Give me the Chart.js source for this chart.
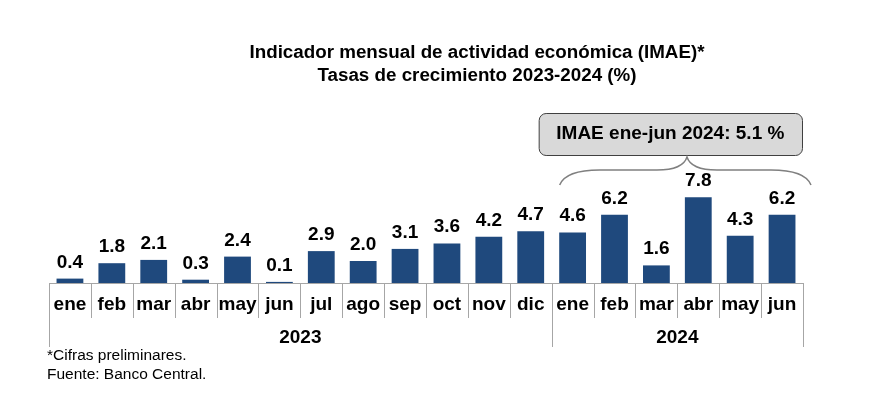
<!DOCTYPE html>
<html>
<head>
<meta charset="utf-8">
<script src="https://cdn.jsdelivr.net/npm/chart.js@4.4.1/dist/chart.umd.min.js"></script>
<style>
html,body{margin:0;padding:0;background:#fff;}
#wrap{width:890px;height:402px;position:relative;}
</style>
</head>
<body>
<div id="wrap"><canvas id="c" width="890" height="402"></canvas></div>
<script>
const months = ["ene","feb","mar","abr","may","jun","jul","ago","sep","oct","nov","dic","ene","feb","mar","abr","may","jun"];
const years = ["2023","2024"];
const yearSpans = [[0,11],[12,17]];
const values = [0.4,1.8,2.1,0.3,2.4,0.1,2.9,2.0,3.1,3.6,4.2,4.7,4.6,6.2,1.6,7.8,4.3,6.2];
const titleLines = ["Indicador mensual de actividad económica (IMAE)*","Tasas de crecimiento 2023-2024 (%)"];
const calloutText = "IMAE ene-jun 2024: 5.1 %";
const calloutSpan = [12,17];
const notes = ["*Cifras preliminares.","Fuente: Banco Central."];

const FONT = "'Liberation Sans', Arial, sans-serif";

const decor = {
  id: 'decor',
  afterDatasetsDraw(chart) {
    const ctx = chart.ctx;
    const xs = chart.scales.x;
    const ca = chart.chartArea;
    const meta = chart.getDatasetMeta(0);
    const n = months.length;
    const base = ca.bottom;
    ctx.save();
    // value labels
    ctx.fillStyle = '#000';
    ctx.font = 'bold 19px ' + FONT;
    ctx.textAlign = 'center';
    ctx.textBaseline = 'alphabetic';
    meta.data.forEach((bar, i) => {
      ctx.fillText(values[i].toFixed(1), bar.x, bar.y - 11);
    });
    // axis line
    ctx.strokeStyle = '#a6a6a6';
    ctx.lineWidth = 1;
    ctx.beginPath();
    ctx.moveTo(ca.left, base + 0.5);
    ctx.lineTo(ca.right, base + 0.5);
    ctx.stroke();
    // separators
    const yearBounds = new Set([0, 12, 18]);
    for (let k = 0; k <= n; k++) {
      const x = Math.round(xs.getPixelForValue(k - 0.5)) + 0.5;
      const yEnd = yearBounds.has(k) ? base + 64 : base + 35;
      ctx.beginPath();
      ctx.moveTo(x, base);
      ctx.lineTo(x, yEnd);
      ctx.stroke();
    }
    // month labels
    ctx.fillStyle = '#000';
    ctx.font = 'bold 19px ' + FONT;
    ctx.textBaseline = 'middle';
    months.forEach((m, i) => {
      ctx.fillText(m, xs.getPixelForValue(i), base + 22);
    });
    // year labels
    years.forEach((y, j) => {
      const x0 = xs.getPixelForValue(yearSpans[j][0] - 0.5);
      const x1 = xs.getPixelForValue(yearSpans[j][1] + 0.5);
      ctx.fillText(y, (x0 + x1) / 2, base + 55);
    });
    // title
    ctx.font = 'bold 18.8px ' + FONT;
    ctx.fillText(titleLines[0], 477, 53);
    ctx.fillText(titleLines[1], 477, 76);
    // callout box
    const bx0 = xs.getPixelForValue(calloutSpan[0] - 0.5) - 13;
    const bx1 = xs.getPixelForValue(calloutSpan[1] + 0.5) - 1;
    const by0 = 113, by1 = 155;
    ctx.beginPath();
    ctx.roundRect(bx0 + 0.5, by0 + 0.5, bx1 - bx0, by1 - by0, 7);
    ctx.fillStyle = '#d9d9d9';
    ctx.fill();
    ctx.strokeStyle = '#404040';
    ctx.lineWidth = 1;
    ctx.stroke();
    ctx.fillStyle = '#000';
    ctx.font = 'bold 19px ' + FONT;
    ctx.fillText(calloutText, (bx0 + bx1) / 2, 134);
    // brace
    const L = xs.getPixelForValue(calloutSpan[0] - 0.5) + 8;
    const R = xs.getPixelForValue(calloutSpan[1] + 0.5) + 8;
    const M = 687;
    const yb = 185, ym = 170, yt = 157;
    ctx.strokeStyle = '#808080';
    ctx.lineWidth = 1.5;
    ctx.beginPath();
    ctx.moveTo(L, yb);
    ctx.quadraticCurveTo(L + 6, ym, L + 40, ym);
    ctx.lineTo(M - 30, ym);
    ctx.quadraticCurveTo(M - 4, ym, M, yt);
    ctx.quadraticCurveTo(M + 4, ym, M + 30, ym);
    ctx.lineTo(R - 40, ym);
    ctx.quadraticCurveTo(R - 6, ym, R, yb);
    ctx.stroke();
    // notes
    ctx.fillStyle = '#000';
    ctx.font = '15.5px ' + FONT;
    ctx.textAlign = 'left';
    ctx.fillText(notes[0], 47, 356);
    ctx.fillText(notes[1], 47, 375);
    ctx.restore();
  }
};

new Chart(document.getElementById('c'), {
  type: 'bar',
  data: {
    labels: months.map((m, i) => m + (i < 12 ? ' 2023' : ' 2024')),
    datasets: [{
      data: values,
      backgroundColor: '#1f497d',
      barPercentage: 0.64,
      categoryPercentage: 1.0
    }]
  },
  options: {
    responsive: false,
    animation: false,
    devicePixelRatio: 1,
    layout: { padding: { left: 49, right: 87, top: 100, bottom: 119 } },
    plugins: { legend: { display: false }, tooltip: { enabled: false }, title: { display: false } },
    scales: {
      x: { display: false, offset: true, grid: { display: false } },
      y: { display: false, min: 0, max: 16.64 }
    }
  },
  plugins: [decor]
});
</script>
</body>
</html>
